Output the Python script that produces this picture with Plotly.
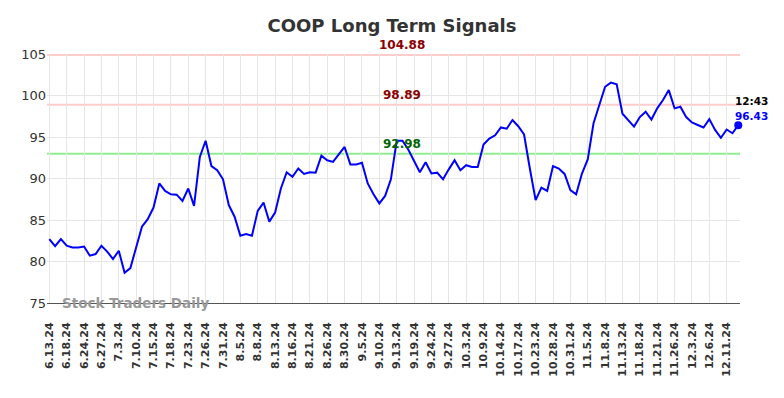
import plotly.graph_objects as go

tick_labels = ["6.13.24", "6.18.24", "6.24.24", "6.27.24", "7.3.24", "7.10.24", "7.15.24", "7.18.24",
               "7.23.24", "7.26.24", "7.31.24", "8.5.24", "8.8.24", "8.13.24", "8.16.24", "8.21.24",
               "8.26.24", "8.30.24", "9.5.24", "9.10.24", "9.13.24", "9.19.24", "9.24.24", "9.27.24",
               "10.3.24", "10.9.24", "10.14.24", "10.17.24", "10.23.24", "10.28.24", "10.31.24",
               "11.5.24", "11.8.24", "11.13.24", "11.18.24", "11.21.24", "11.26.24", "12.3.24",
               "12.6.24", "12.11.24"]

prices = [82.7, 81.85, 82.7, 81.9, 81.7, 81.7, 81.8, 80.7, 80.9, 81.9,
          81.2, 80.3, 81.3, 78.65, 79.2, 81.8, 84.2, 85.1, 86.5, 89.4,
          88.5, 88.1, 88.05, 87.3, 88.8, 86.7, 92.6, 94.55, 91.5, 91.0,
          89.9, 86.8, 85.4, 83.1, 83.3, 83.1, 86.1, 87.1, 84.8, 85.9,
          88.8, 90.75, 90.2, 91.2, 90.55, 90.75, 90.7, 92.75, 92.2, 92.0,
          92.9, 93.8, 91.7, 91.7, 91.9, 89.4, 88.1, 87.0, 87.9, 89.9,
          94.55, 94.55, 93.5, 92.2, 90.75, 91.95, 90.6, 90.7, 89.9, 91.1,
          92.2, 91.0, 91.6, 91.4, 91.4, 94.1, 94.8, 95.2, 96.15, 96.0,
          97.05, 96.3, 95.3, 91.2, 87.4, 88.9, 88.5, 91.5, 91.2, 90.55,
          88.6, 88.1, 90.6, 92.3, 96.65, 98.85, 101.05, 101.55, 101.35, 97.8,
          97.0, 96.25, 97.4, 98.05, 97.1, 98.45, 99.45, 100.65, 98.45, 98.65,
          97.4, 96.75, 96.45, 96.15, 97.15, 95.85, 94.9, 95.9, 95.45, 96.43]

signal_levels = [104.88, 98.89, 92.98]
signal_line_colors = ["#ffcccc", "#ffcccc", "#90ee90"]
signal_text_colors = ["#8b0000", "#8b0000", "#006400"]
last_time = "12:43"

x = list(range(len(prices)))
tick_idx = list(range(0, 3 * len(tick_labels), 3))

fig = go.Figure()
for lvl, c in zip(signal_levels, signal_line_colors):
    fig.add_hline(y=lvl, line=dict(color=c, width=2), layer="below")

fig.add_trace(go.Scatter(x=x, y=prices, mode="lines", line=dict(color="#0000ff", width=2),
                         hoverinfo="skip", showlegend=False))
fig.add_trace(go.Scatter(x=[x[-1]], y=[prices[-1]], mode="markers", cliponaxis=False,
                         marker=dict(color="#0000ff", size=8), showlegend=False))

mid = 61
for lvl, c in zip(signal_levels, signal_text_colors):
    fig.add_annotation(x=mid, y=lvl, text=f"<b>{lvl:.2f}</b>", showarrow=False,
                       yanchor="bottom", yshift=1, font=dict(color=c, size=12, family="DejaVu Sans"))

fig.add_annotation(x=x[-1], y=prices[-1], text=f"<b>{last_time}</b>", showarrow=False,
                   xanchor="left", yanchor="middle", xshift=-5, yshift=24,
                   font=dict(color="#000000", size=10.5, family="DejaVu Sans"))
fig.add_annotation(x=x[-1], y=prices[-1], text=f"<b>{prices[-1]:.2f}</b>", showarrow=False,
                   xanchor="left", yanchor="middle", xshift=-5, yshift=9,
                   font=dict(color="#0000ff", size=10.5, family="DejaVu Sans"))

fig.add_annotation(xref="paper", yref="paper", x=0.019, y=0.0, text="<b>Stock Traders Daily</b>",
                   showarrow=False, xanchor="left", yanchor="middle",
                   font=dict(color="#999999", size=13.5, family="DejaVu Sans"))

fig.update_layout(
    width=784, height=398,
    margin=dict(l=47, r=44, t=54, b=95),
    paper_bgcolor="white", plot_bgcolor="white",
    title=dict(text="<b>COOP Long Term Signals</b>", x=0.5, xanchor="center",
               y=1 - 26 / 398, yanchor="middle",
               font=dict(size=18, color="#333333", family="DejaVu Sans")),
    font=dict(family="DejaVu Sans", color="#333333"),
    showlegend=False,
)
fig.update_xaxes(range=[-0.4, 119.3], tickmode="array", tickvals=tick_idx, ticktext=tick_labels,
                 tickangle=-90, tickfont=dict(size=11, color="#333333", weight="bold"),
                 showgrid=True, gridcolor="#e6e6e6", zeroline=False, automargin=False,
                 showline=True, linecolor="#555555", linewidth=1,
                 ticks="outside", ticklen=14, tickcolor="rgba(0,0,0,0)")
fig.update_yaxes(range=[75, 105], tickvals=[75, 80, 85, 90, 95, 100, 105],
                 tickfont=dict(size=13, color="#333333"), automargin=False,
                 showgrid=True, gridcolor="#e6e6e6", zeroline=False, ticks="")

fig.write_html("out.html", config={"displayModeBar": False},
               post_script="document.body.style.margin='0';")
